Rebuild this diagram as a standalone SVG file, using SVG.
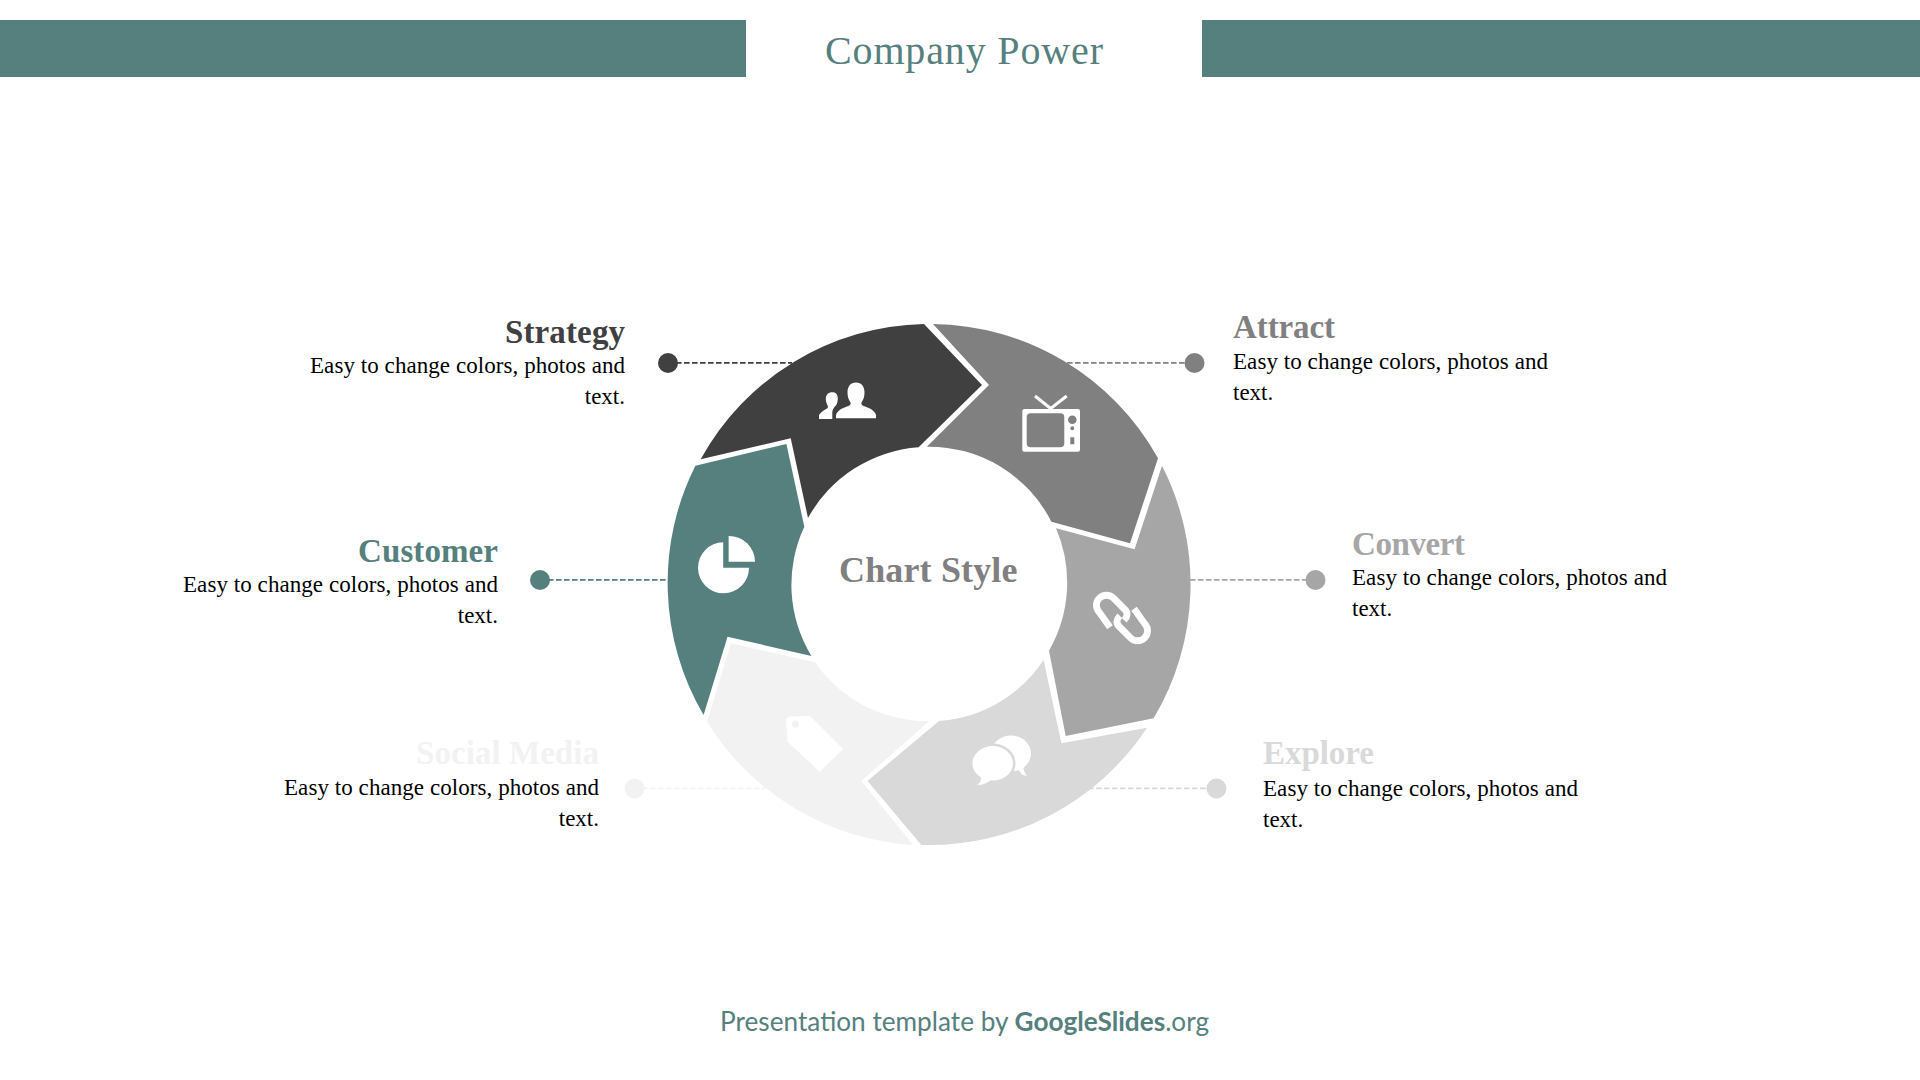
<svg xmlns="http://www.w3.org/2000/svg" width="1920" height="1080" viewBox="0 0 1920 1080">
<style>
.serif{font-family:"Liberation Serif",serif}
.h{font-family:"Liberation Serif",serif;font-weight:700;font-size:33px}
.b{font-family:"Liberation Serif",serif;font-size:23px;fill:#000}
.e{text-anchor:end}
.c{fill:none;stroke-width:1.8;stroke-dasharray:5.600 2.400}
.w{fill:#fff}
</style>
<rect width="1920" height="1080" fill="#fff"/>
<g id="banner">
<rect x="0" y="20" width="746" height="57" fill="#55807e"/>
<rect x="1202" y="20" width="718" height="57" fill="#55807e"/>
<text x="825" y="64" class="serif" font-size="40" fill="#55807e" textLength="278">Company Power</text>
</g>
<g id="connectors">
<line class="c" x1="668" y1="362.800" x2="792" y2="362.800" stroke="#404040"/>
<line class="c" x1="1067" y1="362.800" x2="1194" y2="362.800" stroke="#808080"/>
<line class="c" x1="540" y1="579.800" x2="668" y2="579.800" stroke="#55807e"/>
<line class="c" x1="1190" y1="579.800" x2="1315" y2="579.800" stroke="#a6a6a6"/>
<line class="c" x1="634" y1="788.300" x2="765" y2="788.300" stroke="#f2f2f2"/>
<line class="c" x1="1088" y1="788.300" x2="1216" y2="788.300" stroke="#d9d9d9"/>
</g>
<g id="strategy">
<path d="M700.700 459.300A261 261 0 0 1 924 324L982 385L918.600 447.300A137 137 0 0 0 808 518L790.700 438.300Z" fill="#404040"/>
<path class="w" d="M836 418.300V415c1-4 6-7 11-8.500c3-1 4-2 3.500-4c-2-3-3-6-3-10c0-6 3-10 8.500-10s8.500 4 8.500 10c0 4-1 7-3 10c-.5 2 .5 3 3.500 4c5 1.500 10 4.500 11 8.500V418.300Z"/>
<path class="w" d="M819 419V415c2-3 5-5 8-6.500c1.500-1 1-2 .3-3.500c-1-2-1.500-4-1.500-6c0-4.500 2.500-6.800 6.500-6.800s5.500 2.300 5.500 6.800c0 2-.5 4-1.500 6c-2 2-3.800 4-4 7V419Z"/>
<circle cx="668" cy="363" r="10" fill="#404040"/>
<text x="625" y="343" class="h e" fill="#404040" textLength="120">Strategy</text>
<text x="625" y="373" class="b e" textLength="315">Easy to change colors, photos and</text>
<text x="625" y="404" class="b e">text.</text>
</g>
<g id="attract">
<path d="M933 324A261 261 0 0 1 1158 458.300L1130 543.300L1051.400 521.700A137 137 0 0 0 926.800 446.700L989 385Z" fill="#808080"/>
<path class="w" fill-rule="evenodd" d="M1024.300 409H1078a2 2 0 0 1 2 2V449.700a2 2 0 0 1-2 2H1024.300a2 2 0 0 1-2-2V411a2 2 0 0 1 2-2ZM1030.700 413.300a4 4 0 0 0-4 4V443.300a4 4 0 0 0 4 4H1060.300a4 4 0 0 0 4-4V417.300a4 4 0 0 0-4-4ZM1076.600 419.700a4.300 4.300 0 1 0-8.600 0a4.300 4.300 0 1 0 8.600 0ZM1074.300 428.300a2 2 0 1 0-4 0a2 2 0 1 0 4 0ZM1070.300 437.300v7h4v-7Z"/>
<path d="M1035 396L1050.700 408.500L1066.700 396" fill="none" stroke="#fff" stroke-width="3"/>
<circle cx="1194.500" cy="363" r="10" fill="#808080"/>
<text x="1233" y="338" class="h" fill="#808080" textLength="102">Attract</text>
<text x="1233" y="369" class="b" textLength="315">Easy to change colors, photos and</text>
<text x="1233" y="400" class="b">text.</text>
</g>
<g id="convert">
<path d="M1162 465.700A261 261 0 0 1 1153.600 718.300L1065.700 736L1049 650.700A137 137 0 0 0 1056 528.300L1134.600 549.300Z" fill="#a6a6a6"/>
<g transform="translate(1122 618) rotate(45)" fill="none" stroke="#fff" stroke-width="6.800">
<path d="M-2 15L-20 12A10 10 0 0 1-20-8H-4Q3-8 3 0"/>
<path d="M2-15L20-12A10 10 0 0 1 20 8H4Q-3 8-3 0"/>
</g>
<circle cx="1315.500" cy="580" r="10" fill="#a6a6a6"/>
<text x="1352" y="555" class="h" fill="#a6a6a6" textLength="113">Convert</text>
<text x="1352" y="585" class="b" textLength="315">Easy to change colors, photos and</text>
<text x="1352" y="616" class="b">text.</text>
</g>
<g id="explore">
<path d="M1147 727.700A261 261 0 0 1 921.400 845L867.500 781L939 721A137 137 0 0 0 1043.600 660L1061.400 743.300Z" fill="#d9d9d9"/>
<ellipse class="w" cx="1011" cy="753.500" rx="20" ry="18"/>
<path class="w" d="M1018 768Q1020 775 1027 776Q1022 770 1024 764Z"/>
<ellipse class="w" cx="992.700" cy="763.300" rx="20.300" ry="17.200" stroke="#d9d9d9" stroke-width="5" paint-order="stroke"/>
<path class="w" d="M981 776Q982 781 977 785Q986 785 992 779Z"/>
<circle cx="1216.500" cy="788.500" r="10" fill="#d9d9d9"/>
<text x="1263" y="764" class="h" fill="#d9d9d9" textLength="111">Explore</text>
<text x="1263" y="796" class="b" textLength="315">Easy to change colors, photos and</text>
<text x="1263" y="826.500" class="b">text.</text>
</g>
<g id="social-media">
<path d="M913 845A261 261 0 0 1 707 721.700L731 643.300L815 662.300A137 137 0 0 0 929.300 721L861.400 781Z" fill="#f2f2f2"/>
<path class="w" fill-rule="evenodd" d="M789 716.500L810 716L843.200 749L819.600 771.700L787.500 741.700L786 719ZM798.900 724.300a3.500 3.500 0 1 0-7 0a3.500 3.500 0 1 0 7 0Z"/>
<circle cx="634.500" cy="788.500" r="10" fill="#f2f2f2"/>
<text x="599" y="763.500" class="h e" fill="#f2f2f2" textLength="183">Social Media</text>
<text x="599" y="795" class="b e" textLength="315">Easy to change colors, photos and</text>
<text x="599" y="826" class="b e">text.</text>
</g>
<g id="customer">
<path d="M703.600 715A261 261 0 0 1 695.400 465.700L786.400 444L804.300 526.700A137 137 0 0 0 811.400 656L727.500 636.700Z" fill="#55807e"/>
<path class="w" d="M723.200 542.300V567.700H749A25.500 25.500 0 1 1 723.200 542.300Z"/>
<path class="w" d="M728.600 536A26 26 0 0 1 755 561.700H728.600Z"/>
<circle cx="540" cy="580" r="10" fill="#55807e"/>
<text x="498" y="562" class="h e" fill="#55807e" textLength="140">Customer</text>
<text x="498" y="592" class="b e" textLength="315">Easy to change colors, photos and</text>
<text x="498" y="623" class="b e">text.</text>
</g>
<g id="center">
<text x="839" y="582" class="serif" font-size="36" font-weight="700" fill="#808080" textLength="178.500">Chart Style</text>
</g>
<g id="footer">
<text x="720" y="1031" font-family="Lato,sans-serif" font-size="26.200" fill="#55807e">Presentation template by <tspan font-weight="700">GoogleSlides</tspan>.org</text>
</g>
</svg>
